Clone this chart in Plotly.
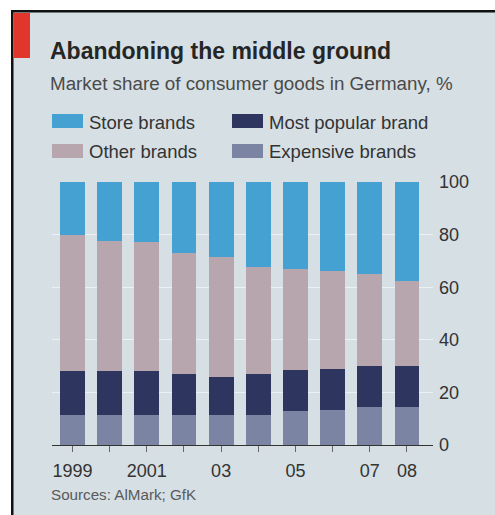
import plotly.graph_objects as go

years = [1999, 2000, 2001, 2002, 2003, 2004, 2005, 2006, 2007, 2008]
tick_labels = ["1999", "", "2001", "", "03", "", "05", "", "07", "08"]
expensive = [11.5, 11.5, 11.5, 11.5, 11.5, 11.5, 13.0, 13.5, 14.5, 14.5]
most_popular = [16.5, 16.5, 16.5, 15.5, 14.5, 15.5, 15.5, 15.5, 15.5, 15.5]
other = [52.0, 49.5, 49.0, 46.0, 45.5, 40.5, 38.5, 37.0, 35.0, 32.5]
store = [20.0, 22.5, 23.0, 27.0, 28.5, 32.5, 33.0, 34.0, 35.0, 37.5]
series_names = ["Expensive brands", "Most popular brand", "Other brands", "Store brands"]
series_values = [expensive, most_popular, other, store]
colors = ["#7c84a4", "#2e3660", "#b8a6ae", "#45a1d2"]

W, H = 495, 515
L, R, T, B = 52, 433, 182, 445
BG = "#d5dfe4"
FONT = "Liberation Sans, Arial, sans-serif"


def xp(px):
    return (px - L) / (R - L)


def yp(py):
    return (B - py) / (B - T)


fig = go.Figure()
for name, vals, col in zip(series_names, series_values, colors):
    fig.add_trace(go.Bar(x=years, y=vals, name=name, marker=dict(color=col, line=dict(width=0)),
                         showlegend=False))

shapes = []
# white outside frame
shapes.append(dict(type="rect", xref="paper", yref="paper", x0=xp(0), x1=xp(11), y0=yp(H), y1=yp(0),
                   fillcolor="white", line=dict(width=0), layer="above"))
shapes.append(dict(type="rect", xref="paper", yref="paper", x0=xp(0), x1=xp(W), y0=yp(10), y1=yp(0),
                   fillcolor="white", line=dict(width=0), layer="above"))
# black frame lines
shapes.append(dict(type="rect", xref="paper", yref="paper", x0=xp(11), x1=xp(13.5), y0=yp(H), y1=yp(10),
                   fillcolor="#111111", line=dict(width=0), layer="above"))
shapes.append(dict(type="rect", xref="paper", yref="paper", x0=xp(11), x1=xp(W), y0=yp(12.5), y1=yp(10),
                   fillcolor="#111111", line=dict(width=0), layer="above"))
# red tab
shapes.append(dict(type="rect", xref="paper", yref="paper", x0=xp(14), x1=xp(30), y0=yp(58), y1=yp(13),
                   fillcolor="#e0362c", line=dict(width=0), layer="above"))

annotations = []
annotations.append(dict(text="<b>Abandoning the middle ground</b>", xref="paper", yref="paper",
                        x=xp(48), y=yp(51), xanchor="left", yanchor="middle", showarrow=False,
                        font=dict(family=FONT, size=23, color="#262626")))
annotations.append(dict(text="Market share of consumer goods in Germany, %", xref="paper", yref="paper",
                        x=xp(48), y=yp(84), xanchor="left", yanchor="middle", showarrow=False,
                        font=dict(family=FONT, size=18.8, color="#4a4a4a")))
annotations.append(dict(text="Sources: AlMark; GfK", xref="paper", yref="paper",
                        x=xp(49), y=yp(494), xanchor="left", yanchor="middle", showarrow=False,
                        font=dict(family=FONT, size=15.2, color="#5a5a5a")))

# legend (manual)
legend_items = [("Store brands", 3, 52, 114), ("Most popular brand", 1, 232, 114),
                ("Other brands", 2, 52, 144), ("Expensive brands", 0, 232, 144)]
for label, idx, lx, ly in legend_items:
    shapes.append(dict(type="rect", xref="paper", yref="paper", x0=xp(lx), x1=xp(lx + 31),
                       y0=yp(ly + 14), y1=yp(ly), fillcolor=colors[idx], line=dict(width=0), layer="above"))
    annotations.append(dict(text=label, xref="paper", yref="paper", x=xp(lx + 35), y=yp(ly + 8),
                            xanchor="left", yanchor="middle", showarrow=False,
                            font=dict(family=FONT, size=18.5, color="#333333")))

fig.update_layout(
    width=W, height=H,
    margin=dict(l=L, r=W - R, t=T, b=H - B, pad=0),
    paper_bgcolor=BG, plot_bgcolor=BG,
    barmode="stack", bargap=0.33,
    shapes=shapes, annotations=annotations,
    font=dict(family=FONT, color="#333333"),
    xaxis=dict(range=[1998.45, 2008.7], tickmode="array", tickvals=years, ticktext=tick_labels,
               showgrid=False, zeroline=False, showline=True, linecolor="#333333", linewidth=1,
               ticks="outside", ticklen=6, tickcolor="#666666", tickwidth=1, ticklabelstandoff=3,
               tickfont=dict(family=FONT, size=18, color="#333333"), fixedrange=True),
    yaxis=dict(range=[0, 100], side="right", tickmode="array", tickvals=[0, 20, 40, 60, 80, 100],
               showgrid=True, gridcolor="rgba(255,255,255,0.55)", gridwidth=1, zeroline=False,
               showline=False, ticks="", ticklabelstandoff=5,
               tickfont=dict(family=FONT, size=18, color="#333333"), fixedrange=True),
)

fig.write_html("out.html")
